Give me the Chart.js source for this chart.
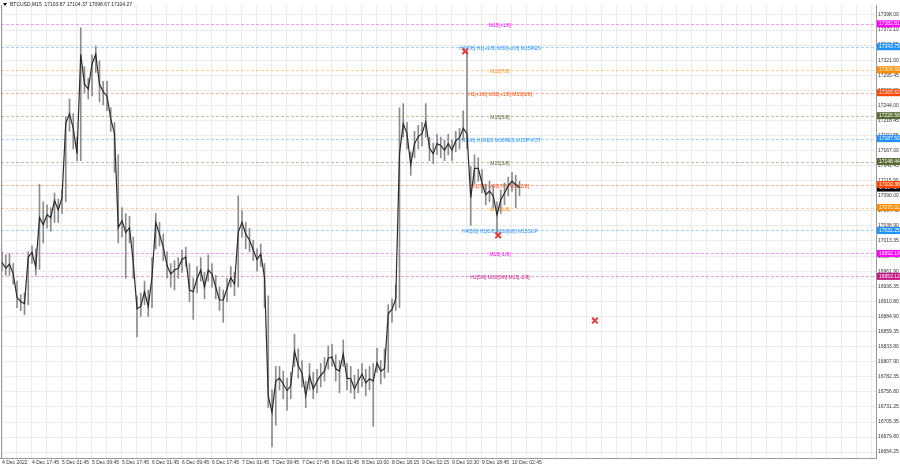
<!DOCTYPE html>
<html>
<head>
<meta charset="utf-8">
<script src="https://cdn.jsdelivr.net/npm/chart.js@4.4.0/dist/chart.umd.min.js"></script>
<style>
  body { margin: 0; background: #fff; }
  #wrap { width: 900px; height: 468px; }
</style>
</head>
<body>
<div id="wrap"><canvas id="myChart" width="900" height="468"></canvas></div>
<script>
// hourly samples of BTCUSD M15, starting 4 Dec 09:45
const closes = [16977, 16967, 16974, 16957, 16918, 16910, 16907, 16986, 16994, 16969,
  17053, 17041, 17058, 17053, 17082, 17066, 17087, 17213, 17230, 17205,
  17162, 17331, 17280, 17272, 17314, 17331, 17280, 17267, 17260, 17221,
  17196, 17036, 17048, 17028, 17036, 16977, 16898, 16902, 16927, 16902,
  16952, 17045, 17025, 17003, 16972, 16957, 16964, 16967, 16982, 16986,
  16930, 16927, 16949, 16964, 16935, 16964, 16957, 16935, 16913, 16913,
  16932, 16951, 16940, 17028, 17045, 17025, 17015, 16998, 16982, 16991,
  16952, 16750, 16722, 16775, 16780, 16770, 16759, 16767, 16826, 16801,
  16789, 16750, 16784, 16762, 16775, 16785, 16792, 16814, 16816, 16796,
  16792, 16821, 16780, 16779, 16762, 16775, 16787, 16772, 16779, 16775,
  16806, 16792, 16796, 16890, 16897, 16915, 17162, 17213, 17196, 17143,
  17179, 17191, 17196, 17216, 17171, 17162, 17179, 17176, 17168, 17179,
  17168, 17184, 17189, 17205, 17196, 17087, 17137, 17137, 17112, 17092,
  17098, 17090, 17058, 17083, 17095, 17107, 17115, 17109, 17104.27];
const highs = [16995, 16990, 16992, 16975, 16945, 16922, 16925, 16995, 17005, 17000,
  17110, 17080, 17075, 17070, 17095, 17085, 17100, 17225, 17255, 17230,
  17190, 17376, 17310, 17290, 17330, 17345, 17320, 17285, 17285, 17240,
  17215, 17160, 17070, 17060, 17055, 17020, 16920, 16925, 16945, 16930,
  16985, 17060, 17045, 17025, 16995, 16975, 16980, 16985, 16998, 17003,
  16975, 16950, 16970, 16985, 16960, 16990, 16975, 16955, 16935, 16930,
  16950, 16970, 16960, 17090, 17065, 17045, 17035, 17015, 17000, 17008,
  16975, 16920, 16760, 16800, 16800, 16792, 16780, 16790, 16855, 16830,
  16810, 16775, 16805, 16790, 16795, 16805, 16815, 16835, 16838, 16820,
  16810, 16845, 16805, 16800, 16785, 16795, 16805, 16795, 16800, 16805,
  16831, 16810, 16830, 16905, 16915, 16939, 17240, 17247, 17215, 17165,
  17200, 17210, 17215, 17247, 17190, 17180, 17195, 17190, 17185, 17195,
  17185, 17200, 17205, 17235, 17336, 17140, 17160, 17155, 17135, 17110,
  17115, 17108, 17080, 17100, 17112, 17122, 17130, 17125, 17115];
const lows = [16962, 16955, 16955, 16940, 16900, 16895, 16888, 16905, 16975, 16955,
  16965, 17010, 17035, 17030, 17045, 17045, 17060, 17080, 17200, 17170,
  17150, 17150, 17265, 17255, 17260, 17300, 17250, 17245, 17235, 17200,
  17130, 17010, 17020, 16950, 17010, 16950, 16850, 16885, 16905, 16885,
  16900, 17000, 17005, 16980, 16950, 16935, 16930, 16950, 16960, 16970,
  16910, 16880, 16925, 16945, 16915, 16945, 16935, 16915, 16895, 16875,
  16910, 16935, 16920, 16935, 17020, 17000, 16995, 16980, 16962, 16970,
  16900, 16730, 16663, 16700, 16760, 16745, 16725, 16745, 16800, 16780,
  16765, 16730, 16760, 16745, 16755, 16765, 16775, 16795, 16800, 16775,
  16755, 16800, 16760, 16755, 16745, 16755, 16765, 16750, 16760, 16698,
  16790, 16770, 16780, 16790, 16875, 16895, 16900, 17190, 17170, 17125,
  17155, 17170, 17175, 17190, 17150, 17145, 17160, 17155, 17150, 17160,
  17150, 17165, 17170, 17185, 17170, 17040, 17110, 17115, 17095, 17075,
  17080, 17070, 17024, 17060, 17075, 17090, 17098, 17070, 17090];

const dateLabels = ["4 Dec 2022", "4 Dec 17:45", "5 Dec 01:45", "5 Dec 09:45", "5 Dec 17:45",
  "6 Dec 01:45", "6 Dec 09:45", "6 Dec 17:45", "7 Dec 01:45", "7 Dec 09:45", "7 Dec 17:45",
  "8 Dec 01:45", "8 Dec 10:00", "8 Dec 18:15", "9 Dec 02:15", "9 Dec 10:30", "9 Dec 18:45",
  "10 Dec 02:45"];

const priceTicks = [17398.00, 17372.10, 17346.55, 17321.00, 17295.45, 17269.90, 17244.00,
  17218.45, 17192.55, 17167.00, 17141.45, 17115.90, 17090.00, 17064.45, 17038.90, 17013.35,
  16987.45, 16961.90, 16936.35, 16910.80, 16884.90, 16859.35, 16833.80, 16807.90, 16782.35,
  16756.80, 16731.25, 16705.35, 16679.80, 16654.25];

const levelPrices = [17382.81, 17343.75, 17304.69, 17265.62, 17226.56, 17187.50,
  17148.44, 17109.38, 17070.31, 17031.25, 16992.19, 16953.12];
const levelNames = ["M15[+1/8]", "H4[7/8] H1[+2/8] M30[+2/8] M15RES", "M15[7/8]",
  "H1[+1/8] M30[+1/8] M15[6/8]", "M15[5/8]", "H4[6/8] H1RES M30RES M15PIVOT", "M15[3/8]",
  "H1[7/8] M30[7/8] M15[2/8]", "M15[1/8]", "H4[5/8] H1[6/8] M30[6/8] M15SUP", "M15[-1/8]",
  "H1[5/8] M30[5/8] M15[-2/8]"];
const levelColors = ["#ff00ff", "#1e90ff", "#ff8c00", "#ff4500", "#556b2f", "#1e90ff",
  "#556b2f", "#ff4500", "#ff8c00", "#1e90ff", "#ff00ff", "#c71585"];

const crossHours = [123.5, 132.3, 158.1];
const crossPrices = [17336, 17023, 16878];

const lastPrice = 17104.27;
const header = "BTCUSD,M15  17103.87 17104.37 17098.67 17104.27";

const tinyFont = "5px 'Liberation Sans', Arial, sans-serif";

const levelsPlugin = {
  id: "levels",
  beforeDatasetsDraw(chart) {
    const { ctx, chartArea, scales } = chart;
    const labelX = scales.x.getPixelForValue(132.8);
    ctx.save();
    for (let i = 0; i < levelPrices.length; i++) {
      const y = Math.round(scales.y.getPixelForValue(levelPrices[i])) + 0.5;
      ctx.strokeStyle = levelColors[i];
      ctx.globalAlpha = 0.4;
      ctx.lineWidth = 1;
      ctx.setLineDash([3, 2]);
      ctx.beginPath();
      ctx.moveTo(chartArea.left, y);
      ctx.lineTo(chartArea.right, y);
      ctx.stroke();
      ctx.globalAlpha = 1;
      ctx.setLineDash([]);
      ctx.fillStyle = levelColors[i];
      ctx.font = tinyFont;
      ctx.textAlign = "center";
      ctx.textBaseline = "middle";
      ctx.fillText(levelNames[i], labelX, y + 1.5);
    }
    ctx.restore();
  },
  afterDraw(chart) {
    const { ctx, chartArea, scales } = chart;
    ctx.save();
    ctx.font = tinyFont;
    ctx.textAlign = "left";
    ctx.textBaseline = "middle";
    // current price box
    let y = scales.y.getPixelForValue(lastPrice);
    ctx.fillStyle = "#000";
    ctx.fillRect(chartArea.right + 1, y - 3, 23, 7);
    ctx.fillStyle = "#fff";
    ctx.fillText(lastPrice.toFixed(2), chartArea.right + 3, y + 0.5);
    for (let i = 0; i < levelPrices.length; i++) {
      y = scales.y.getPixelForValue(levelPrices[i]);
      ctx.fillStyle = levelColors[i];
      ctx.fillRect(chartArea.right + 1, y - 3.5, 23, 7);
      ctx.fillStyle = "#fff";
      ctx.fillText(levelPrices[i].toFixed(2), chartArea.right + 3, y);
    }
    // left frame line
    ctx.strokeStyle = "#999";
    ctx.lineWidth = 1;
    ctx.beginPath();
    ctx.moveTo(chartArea.left + 0.5, chartArea.top);
    ctx.lineTo(chartArea.left + 0.5, chartArea.bottom);
    ctx.stroke();
    // header
    ctx.fillStyle = "#000";
    ctx.beginPath();
    ctx.moveTo(3, 3);
    ctx.lineTo(7, 3);
    ctx.lineTo(5, 6);
    ctx.closePath();
    ctx.fill();
    ctx.fillStyle = "#222";
    ctx.fillText(header, 10, 5);
    ctx.restore();
  }
};

const ctx = document.getElementById("myChart").getContext("2d");
const myChart = new Chart(ctx, {
  type: "bar",
  data: {
    datasets: [
      {
        type: "line",
        label: "cross",
        data: crossHours.map((h, i) => ({ x: h, y: crossPrices[i] })),
        showLine: false,
        pointStyle: "crossRot",
        pointRadius: 4,
        borderColor: "#e53935",
        borderWidth: 2,
        clip: false,
        order: 0,
      },
      {
        type: "line",
        label: "close",
        data: closes.map((c, i) => ({ x: i, y: c })),
        borderColor: "#2b2b2b",
        borderWidth: 1.2,
        pointRadius: 0,
        tension: 0,
        order: 1,
      },
      {
        label: "range",
        data: lows.map((l, i) => ({ x: i, y: [l, highs[i]] })),
        backgroundColor: "#8c8c8c",
        barThickness: 1,
        order: 2,
      },
    ],
  },
  options: {
    responsive: false,
    animation: false,
    devicePixelRatio: 1,
    layout: { padding: 0, autoPadding: false },
    plugins: { legend: { display: false }, tooltip: { enabled: false } },
    scales: {
      x: {
        type: "linear",
        offset: false,
        min: -0.27,
        max: 233.07,
        afterBuildTicks(scale) {
          const t = [];
          for (let h = 0; h <= 232; h += 4) t.push({ value: h });
          scale.ticks = t;
        },
        afterFit(scale) { scale.height = 10; },
        grid: { color: "#ebebeb", drawTicks: false, offset: false },
        border: { display: true, color: "#999" },
        ticks: {
          autoSkip: false,
          maxRotation: 0,
          align: "start",
          padding: 2,
          color: "#333",
          font: { size: 5, family: "'Liberation Sans', Arial, sans-serif" },
          callback: (v) => (v % 8 === 0 && dateLabels[v / 8]) ? dateLabels[v / 8] : "",
        },
      },
      y: {
        position: "right",
        min: 16644.2,
        max: 17414.8,
        afterBuildTicks(scale) {
          scale.ticks = priceTicks.map((v) => ({ value: v }));
        },
        afterFit(scale) { scale.width = 24; },
        grid: { color: "#ebebeb", drawTicks: false },
        border: { display: true, color: "#999" },
        ticks: {
          padding: 2,
          color: "#333",
          font: { size: 5, family: "'Liberation Sans', Arial, sans-serif" },
          callback: (v) => Number(v).toFixed(2),
        },
      },
    },
  },
  plugins: [levelsPlugin],
});
</script>
</body>
</html>
